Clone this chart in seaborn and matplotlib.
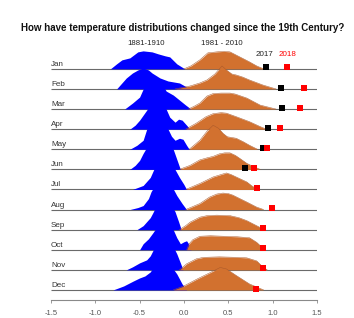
import numpy as np
import pandas as pd
import matplotlib
matplotlib.use("Agg")
import matplotlib.pyplot as plt
import seaborn as sns

# ---------------- data ----------------
months = ["Jan", "Feb", "Mar", "Apr", "May", "Jun",
          "Jul", "Aug", "Sep", "Oct", "Nov", "Dec"]

# density outlines (temperature anomaly, relative height in px) for 1881-1910
blue_1881_1910 = [
    [(-0.83, 0), (-0.76, 5), (-0.70, 9), (-0.61, 11), (-0.52, 17), (-0.46, 18), (-0.36, 17), (-0.29, 15), (-0.21, 13), (-0.16, 12), (-0.08, 5), (0.01, 0)],
    [(-0.76, 0), (-0.70, 6), (-0.65, 11), (-0.58, 16), (-0.52, 19), (-0.46, 21), (-0.40, 19), (-0.36, 16), (-0.27, 11), (-0.18, 8), (-0.05, 6), (0.07, 0)],
    [(-0.67, 0), (-0.58, 6), (-0.50, 12), (-0.46, 20), (-0.40, 26), (-0.32, 30), (-0.26, 27), (-0.20, 18), (-0.12, 14), (-0.05, 9), (0.02, 4), (0.08, 0)],
    [(-0.61, 0), (-0.55, 4), (-0.50, 9), (-0.42, 19), (-0.36, 27), (-0.29, 31), (-0.22, 24), (-0.16, 12), (-0.10, 7), (-0.06, 10), (-0.02, 9), (0.03, 4), (0.07, 0)],
    [(-0.61, 0), (-0.53, 4), (-0.46, 9), (-0.42, 20), (-0.35, 28), (-0.28, 31), (-0.20, 24), (-0.14, 13), (-0.10, 9), (-0.05, 11), (-0.01, 10), (0.03, 4), (0.06, 0)],
    [(-0.61, 0), (-0.55, 4), (-0.50, 9), (-0.46, 16), (-0.40, 25), (-0.30, 32), (-0.20, 28), (-0.12, 20), (-0.08, 10), (-0.04, 0)],
    [(-0.58, 0), (-0.52, 2), (-0.46, 4), (-0.38, 12), (-0.33, 22), (-0.26, 30), (-0.18, 28), (-0.10, 20), (-0.05, 12), (0.00, 5), (0.03, 0)],
    [(-0.61, 0), (-0.52, 2), (-0.46, 4), (-0.40, 11), (-0.37, 18), (-0.30, 28), (-0.22, 30), (-0.14, 24), (-0.08, 14), (-0.02, 6), (0.03, 0)],
    [(-0.53, 0), (-0.46, 4), (-0.38, 12), (-0.35, 17), (-0.30, 26), (-0.22, 30), (-0.15, 26), (-0.10, 18), (-0.06, 8), (-0.03, 0)],
    [(-0.50, 0), (-0.46, 6), (-0.40, 11), (-0.35, 17), (-0.28, 26), (-0.20, 28), (-0.13, 22), (-0.08, 12), (-0.04, 6), (0.00, 8), (0.03, 9), (0.06, 5), (0.08, 0)],
    [(-0.65, 0), (-0.58, 3), (-0.50, 7), (-0.42, 10), (-0.38, 14), (-0.34, 21), (-0.27, 28), (-0.20, 30), (-0.13, 25), (-0.08, 16), (-0.04, 7), (-0.01, 0)],
    [(-0.80, 0), (-0.68, 4), (-0.57, 9), (-0.50, 12), (-0.44, 14), (-0.38, 18), (-0.32, 26), (-0.25, 30), (-0.16, 26), (-0.08, 16), (-0.02, 6), (0.03, 0)],
]

# density outlines for 1981-2010
orange_1981_2010 = [
    [(0.00, 0), (0.08, 3), (0.18, 9), (0.27, 16), (0.37, 17), (0.45, 17.5), (0.52, 17), (0.63, 12), (0.74, 7), (0.82, 3), (0.90, 0)],
    [(-0.10, 0), (0.07, 3), (0.18, 6), (0.26, 9), (0.35, 15), (0.43, 23), (0.48, 19), (0.54, 15), (0.59, 14), (0.66, 12), (0.74, 9), (0.89, 4), (1.04, 0)],
    [(0.05, 0), (0.12, 3), (0.18, 6), (0.26, 13), (0.33, 15.5), (0.42, 16), (0.52, 16), (0.58, 15), (0.71, 11), (0.86, 4), (1.04, 0)],
    [(0.02, 0), (0.14, 6), (0.25, 12.5), (0.33, 15.5), (0.42, 16.5), (0.48, 16), (0.59, 12.5), (0.74, 7.5), (0.85, 3), (0.93, 0)],
    [(0.06, 0), (0.18, 9), (0.26, 18), (0.33, 24), (0.39, 21), (0.44, 16), (0.49, 12.5), (0.59, 11), (0.67, 7.5), (0.74, 4), (0.83, 0)],
    [(-0.05, 0), (0.07, 4), (0.18, 9.5), (0.26, 11.5), (0.33, 13), (0.40, 15.5), (0.46, 16.5), (0.52, 16.5), (0.58, 14), (0.63, 11), (0.71, 6), (0.78, 3), (0.86, 0)],
    [(0.02, 0), (0.18, 6), (0.33, 12.5), (0.44, 15.5), (0.48, 16.5), (0.53, 15), (0.59, 12.5), (0.71, 7.5), (0.76, 4), (0.83, 0)],
    [(0.02, 0), (0.10, 3), (0.18, 6), (0.29, 12.5), (0.37, 15.5), (0.44, 16.5), (0.50, 16), (0.55, 14.5), (0.63, 11), (0.71, 7.5), (0.82, 2.5), (0.90, 0)],
    [(-0.05, 0), (0.02, 4), (0.07, 7.5), (0.18, 12.5), (0.26, 14), (0.37, 14.5), (0.52, 14), (0.62, 12), (0.71, 9), (0.82, 4), (0.91, 0)],
    [(0.03, 0), (0.06, 6), (0.10, 10), (0.18, 13.5), (0.30, 14), (0.45, 13.5), (0.60, 13), (0.74, 12), (0.82, 7.5), (0.91, 0)],
    [(-0.05, 0), (0.03, 6), (0.14, 11), (0.22, 12.5), (0.40, 13), (0.60, 12.5), (0.71, 12), (0.82, 9), (0.89, 3), (0.94, 0)],
    [(-0.12, 0), (0.00, 4), (0.15, 11), (0.30, 17.5), (0.41, 22.5), (0.48, 21), (0.59, 14.5), (0.74, 6), (0.82, 3), (0.90, 0)],
]

anom_2017 = [0.93, 1.10, 1.11, 0.95, 0.89, 0.69, None, None, None, None, None, None]
anom_2018 = [1.16, 1.35, 1.31, 1.09, 0.94, 0.79, 0.83, 0.99, 0.89, 0.89, 0.89, 0.81]

xticks = [-1.5, -1.0, -0.5, 0.0, 0.5, 1.0, 1.5]
xtick_labels = ["-1.5", "-1.0", "-0.5", "0.0", "0.5", "1.0", "1.5"]

title = "How have temperature distributions changed since the 19th Century?"
period_labels = ["1881-1910", "1981 - 2010"]
year_labels = ["2017", "2018"]

# ---------------- style ----------------
BLUE = "#0000ff"
ORANGE = "#d2712f"
ROW_PX = 20.1  # pixel spacing between ridges

sns.set_theme(style="white")
plt.rcParams["font.family"] = ["Liberation Sans", "DejaVu Sans"]

fig = plt.figure(figsize=(3.54, 3.18), dpi=100)
ax = fig.add_axes([0.144, 0.0566, 0.751, 0.833])

n = len(months)
for i, m in enumerate(months):
    base = n - 1 - i
    z = 10 + i * 5
    ax.hlines(base, -1.5, 1.5, color="#6a6a6a", lw=0.8, zorder=z)
    ax.text(-1.5, base + 0.05, m, ha="left", va="bottom", fontsize=5.8,
            color="#333333", zorder=z)
    bx, bh = zip(*blue_1881_1910[i])
    ax.fill_between(bx, base, base + np.array(bh) / ROW_PX, color=BLUE,
                    lw=0, zorder=z + 1)
    ox, oh = zip(*orange_1981_2010[i])
    ax.fill_between(ox, base, base + np.array(oh) / ROW_PX, color=ORANGE,
                    lw=0, zorder=z + 2)
    ax.plot(ox, base + np.array(oh) / ROW_PX, color="#a9582a", lw=0.35,
            zorder=z + 2)

rows = [n - 1 - i for i in range(n)]
df17 = pd.DataFrame({"x": anom_2017, "y": rows}).dropna()
df18 = pd.DataFrame({"x": anom_2018, "y": rows}).dropna()
df17["y"] = df17["y"] + 0.07
df18["y"] = df18["y"] + 0.07
sns.scatterplot(data=df17, x="x", y="y", marker="s", color="black", s=16,
                linewidth=0, ax=ax, zorder=200, legend=False)
sns.scatterplot(data=df18, x="x", y="y", marker="s", color="#ff0000", s=16,
                linewidth=0, ax=ax, zorder=201, legend=False)

ax.text(-0.43, 12.24, period_labels[0], ha="center", va="center",
        fontsize=5.6, color="#222222")
ax.text(0.43, 12.24, period_labels[1], ha="center", va="center",
        fontsize=5.6, color="#222222")
ax.text(0.91, 11.72, year_labels[0], ha="center", va="center",
        fontsize=5.8, color="#222222")
ax.text(1.17, 11.72, year_labels[1], ha="center", va="center",
        fontsize=5.8, color="#ff0000")

fig.text(0.515, 0.912, title, ha="center", va="center", fontsize=7.0,
         fontweight="bold", color="#111111")

ax.set_xlim(-1.5, 1.5)
ax.set_ylim(-0.5, 12.68)
ax.set_xticks(xticks)
ax.set_xticklabels(xtick_labels)
ax.set_yticks([])
ax.set_xlabel("")
ax.set_ylabel("")
sns.despine(ax=ax, left=True)
ax.spines["bottom"].set_color("#8a8a8a")
ax.spines["bottom"].set_linewidth(0.8)
ax.tick_params(axis="x", direction="out", length=2.5, width=0.6,
               color="#8a8a8a", labelsize=5.5, labelcolor="#555555", pad=4.5,
               bottom=True)
ax.patch.set_alpha(0)

fig.savefig("out.png", dpi=100)
